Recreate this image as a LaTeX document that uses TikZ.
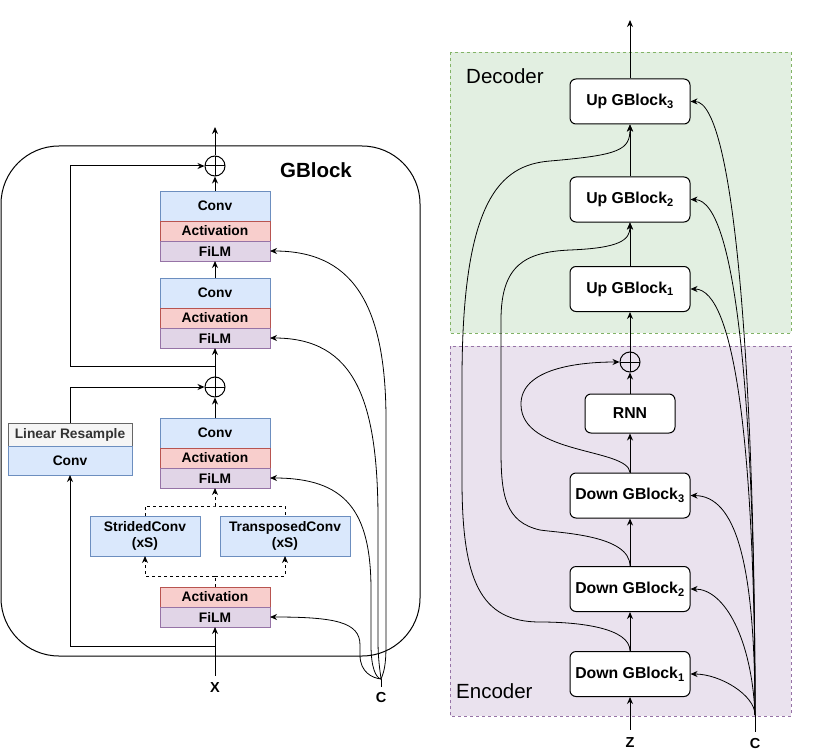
\documentclass[tikz,border=0pt]{standalone}
\usepackage{fontspec}
\setmainfont{Liberation Sans}
\usepackage{tikz}
\usetikzlibrary{arrows.meta,positioning,calc}
\pgfdeclarelayer{bg}
\pgfsetlayers{bg,main}

\definecolor{convfill}{HTML}{DAE8FC}
\definecolor{convline}{HTML}{6C8EBF}
\definecolor{actfill}{HTML}{F8CECC}
\definecolor{actline}{HTML}{B85450}
\definecolor{filmfill}{HTML}{E1D5E7}
\definecolor{filmline}{HTML}{9673A6}
\definecolor{resfill}{HTML}{F5F5F5}
\definecolor{resline}{HTML}{666666}
\definecolor{decfill}{HTML}{D5E8D4}
\definecolor{decline}{HTML}{82B366}

\tikzset{
  layer/.style={draw, line width=1pt, minimum width=110pt, inner sep=0pt, outer sep=0pt,
    font=\fontsize{13.8}{16.7}\selectfont\bfseries, align=center},
  conv/.style={layer, fill=convfill, draw=convline, minimum height=30pt},
  act/.style={layer, fill=actfill, draw=actline, minimum height=20pt},
  film/.style={layer, fill=filmfill, draw=filmline, minimum height=20pt},
  gblk/.style={draw, line width=1pt, rounded corners=6pt, fill=white, minimum width=120pt,
    minimum height=45pt, inner sep=0pt, font=\fontsize{15.8}{18}\selectfont\bfseries},
  plus/.style={draw, circle, line width=1pt, minimum size=20pt, inner sep=0pt,
    path picture={\draw[line width=1pt] (path picture bounding box.north) -- (path picture bounding box.south)
      (path picture bounding box.west) -- (path picture bounding box.east);}},
  arr/.style={line width=1pt, -{Stealth[length=7pt,width=6pt]}},
  cond/.style={line width=0.8pt, -{Stealth[length=7pt,width=6pt]}},
  lbl/.style={font=\fontsize{14.5}{16}\selectfont\bfseries, inner sep=0pt},
  region/.style={dashed, line width=0.6pt, dash pattern=on 3pt off 3pt}
}

\begin{document}
\begin{tikzpicture}[x=1pt,y=-1pt]
    \useasboundingbox (0,0) rectangle (837,754);

    % GBlock
    \draw[line width=1pt, rounded corners=58pt] (1,146) rectangle (420,656);
    \node[font=\fontsize{20.5}{24}\selectfont\bfseries] (gbt) at (316,170) {GBlock};

    \node [plus] (p1) at (215,166) {};
    \node [conv] (cv1) at (215,206) {Conv};
    \node [act, below=0pt of cv1] (ac1) {Activation};
    \node [film, below=0pt of ac1] (fm1) {FiLM};

    \node [conv] (cv2) at (215,293) {Conv};
    \node [act, below=0pt of cv2] (ac2) {Activation};
    \node [film, below=0pt of ac2] (fm2) {FiLM};

    \node [plus] (p2) at (215,387) {};
    \node [conv] (cv3) at (215,433) {Conv};
    \node [act, below=0pt of cv3] (ac3) {Activation};
    \node [film, below=0pt of ac3] (fm3) {FiLM};

    \node [layer, fill=resfill, draw=resline, text=black!80, minimum width=124pt, minimum height=23pt] (lr) at (70,434.5) {Linear Resample};
    \node [conv, minimum width=124pt, minimum height=29pt, below=0pt of lr] (rc) {Conv};

    \node [conv, minimum height=40pt] (sc) at (145,536) {StridedConv\\(xS)};
    \node [conv, minimum height=40pt, minimum width=130pt] (tc) at (285,536) {TransposedConv\\(xS)};

    \node [act] (ac4) at (215,597) {Activation};
    \node [film, below=0pt of ac4] (fm4) {FiLM};

    \node [lbl] (xlab) at (215,688) {X};
    \node [lbl] (clab) at (381,698) {C};

    \coordinate (gout) at (215,127);
    \coordinate (j1) at (215,366);
    \coordinate (j2) at (215,646);
    \coordinate (d1) at (215,506);
    \coordinate (d2) at (215,576);
    \coordinate (cL) at (381,679);

    \draw[arr] (p1) -- (gout);
    \draw[arr] (cv1) -- (p1);
    \draw[arr] (cv2) -- (fm1);
    \draw[arr] (p2) -- (fm2);
    \draw[arr] (cv3) -- (p2);
    \draw[arr] (j1) -- ++(-145,0) |- (p1.west);
    \draw[arr] (lr.north) |- (p2.west);
    \draw[arr, shorten <=7pt] (xlab.north) -- (fm4.south);
    \draw[arr] (j2) -| (rc.south);

    % strided or transposed
    \draw[dashed] (sc.north) |- (d1) -| (tc.north);
    \draw[arr, dashed] (d1) -- (fm3.south);
    \draw[dashed] (ac4.north) -- (d2);
    \draw[arr, dashed] (d2) -| (sc.south);
    \draw[arr, dashed] (d2) -| (tc.south);

    % conditioning into the FiLM layers
    \draw[line width=0.8pt, shorten <=6pt] (clab.north) -- (cL);
    \draw[cond] (cL) .. controls (372,678) and (360,672) .. (360,655) -- (360,645)
      .. controls (360,622) and (335,617) .. (fm4.east);
    \draw[cond] (cL) .. controls (376,678) and (371,668) .. (371,645) -- (371,590)
      .. controls (371,510) and (345,478) .. (fm3.east);
    \draw[cond] (cL) .. controls (380,670) and (378,660) .. (378,640) -- (378,520)
      .. controls (378,400) and (355,338) .. (fm2.east);
    \draw[cond] (cL) .. controls (384,672) and (386,665) .. (386,645) -- (386,420)
      .. controls (386,300) and (350,251) .. (fm1.east);

    % encoder / decoder
    \begin{pgfonlayer}{bg}
      \fill[white] (0,0) rectangle (837,754);
      \draw[region, fill=decfill!70, draw=decline] (450,52) rectangle (791,333);
      \draw[region, fill=filmfill!70, draw=filmline] (450,346) rectangle (791,716);
    \end{pgfonlayer}
    \node[anchor=west, inner sep=0pt, font=\fontsize{20.5}{24}\selectfont] (dect) at (466,76) {Decoder};
    \node[anchor=west, inner sep=0pt, font=\fontsize{20.5}{24}\selectfont] (enct) at (456,691) {Encoder};

    \node [gblk] (ug3) at (630,101.5) {Up GBlock\textsubscript{3}};
    \node [gblk] (ug2) at (630,199.5) {Up GBlock\textsubscript{2}};
    \node [gblk] (ug1) at (630,289) {Up GBlock\textsubscript{1}};
    \node [plus] (pr) at (630,362) {};
    \node [gblk, minimum width=90pt, minimum height=39pt] (rnn) at (630,413.5) {RNN};
    \node [gblk] (dg3) at (630,495.5) {Down GBlock\textsubscript{3}};
    \node [gblk] (dg2) at (630,589) {Down GBlock\textsubscript{2}};
    \node [gblk] (dg1) at (630,674) {Down GBlock\textsubscript{1}};

    \node [lbl] (zlab) at (630,743) {Z};
    \node [lbl] (crlab) at (755,743) {C};
    \coordinate (rout) at (630,20);
    \coordinate (cR) at (755,715);

    \draw[arr, shorten <=8pt] (zlab.north) -- (dg1.south);
    \draw[arr] (dg1) -- (dg2);
    \draw[arr] (dg2) -- (dg3);
    \draw[arr] (dg3) -- (rnn);
    \draw[arr] (rnn) -- (pr);
    \draw[arr] (pr) -- (ug1);
    \draw[arr] (ug1) -- (ug2);
    \draw[arr] (ug2) -- (ug3);
    \draw[arr] (ug3) -- (rout);

    % skips
    \draw[cond] (dg3.north) .. controls (628,448) and (522,455) .. (521,405)
      .. controls (520,368) and (580,362) .. (pr.west);
    \draw[cond] (dg2.north) .. controls (630,535) and (560,533) .. (540,530)
      .. controls (505,522) and (501,495) .. (501,450) -- (501,320)
      .. controls (501,265) and (525,252) .. (570,250)
      .. controls (620,248) and (630,240) .. (ug2.south);
    \draw[cond] (dg1.north) .. controls (630,628) and (580,622) .. (540,622)
      .. controls (480,622) and (462,580) .. (462,480) -- (462,380)
      .. controls (462,200) and (500,165) .. (550,161)
      .. controls (620,155) and (630,150) .. (ug3.south);

    % conditioning into the blocks
    \draw[line width=0.8pt, shorten <=6pt] (crlab.north) -- (cR);
    \draw[cond] (cR) .. controls (755,695) and (720,674) .. (dg1.east);
    \draw[cond] (cR) .. controls (752,640) and (725,589) .. (dg2.east);
    \draw[cond] (cR) .. controls (755,560) and (735,496) .. (dg3.east);
    \draw[cond] (cR) .. controls (755,450) and (735,289) .. (ug1.east);
    \draw[cond] (cR) .. controls (755,420) and (738,200) .. (ug2.east);
    \draw[cond] (cR) .. controls (755,380) and (735,101) .. (ug3.east);
\end{tikzpicture}
\end{document}
